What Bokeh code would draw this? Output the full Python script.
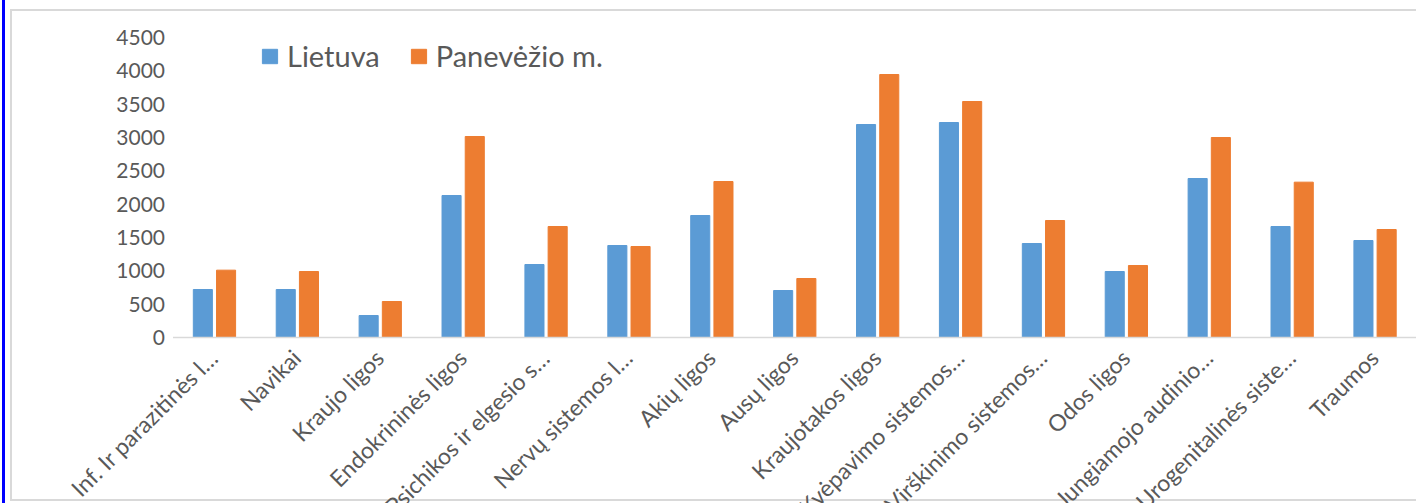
import math
from bokeh.plotting import figure
from bokeh.models import ColumnDataSource, Range1d, Legend, LegendItem
from bokeh.core.properties import value
from bokeh.transform import dodge
from bokeh.embed import file_html
from bokeh.resources import INLINE

categories = ["Inf. Ir parazitinės l…", "Navikai", "Kraujo ligos", "Endokrininės ligos",
              "Psichikos ir elgesio s…", "Nervų sistemos l…", "Akių ligos", "Ausų ligos",
              "Kraujotakos ligos", "Kvėpavimo sistemos…", "Virškinimo sistemos…", "Odos ligos",
              "Jungiamojo audinio…", "Urogenitalinės siste…", "Traumos"]
lietuva = [720, 720, 330, 2130, 1095, 1380, 1830, 705, 3195, 3225, 1410, 990, 2385, 1665, 1455]
panevezio = [1010, 990, 540, 3015, 1665, 1365, 2340, 885, 3945, 3540, 1755, 1080, 3000, 2330, 1620]
y_ticks = [0, 500, 1000, 1500, 2000, 2500, 3000, 3500, 4000, 4500]
y_tick_labels = [str(t) for t in y_ticks]

FONT = "Lato"
TXT = "#595959"
BLUE = "#5B9BD5"
ORANGE = "#ED7D31"

n = len(categories)
idx = list(range(n))
src = ColumnDataSource(dict(x=idx, y0=[0] * n, cat=categories, lt=lietuva, pm=panevezio))
axis_start = -0.5
axis_end = n - 0.5
ticks_src = ColumnDataSource(dict(x=[axis_start] * len(y_ticks), y=y_ticks, t=y_tick_labels))

# the frame covers the whole canvas so the slanted category labels and the tick labels
# are not clipped; the chart's plotting area spans axis_start..axis_end and 0..4500
p = figure(width=1416, height=503, output_backend="svg", toolbar_location=None,
           x_range=Range1d(axis_start - 2.081, axis_end), y_range=Range1d(-2490, 5055),
           min_border_left=0, min_border_right=0, min_border_top=0, min_border_bottom=0)
p.outline_line_color = None
p.grid.visible = False
p.xaxis.visible = False
p.yaxis.visible = False
p.background_fill_color = None
p.border_fill_color = None
g = "linear-gradient(#d9d9d9,#d9d9d9)"
p.styles = {"background": (
    "linear-gradient(#0000ff,#0000ff) 2px 0px / 3px 100% no-repeat, "
    f"{g} 10px 9px / 2px 492px no-repeat, "
    f"{g} 10px 9px / 1410px 2px no-repeat, "
    f"{g} 10px 499px / 1410px 2px no-repeat, "
    "#ffffff")}

r1 = p.vbar(x=dodge("x", -0.14), top="lt", width=0.23, source=src, color=BLUE)
r2 = p.vbar(x=dodge("x", 0.14), top="pm", width=0.23, source=src, color=ORANGE)

# category axis line
p.segment(x0=[axis_start], x1=[axis_end], y0=[0], y1=[0], line_color="#d9d9d9", line_width=1.5)

# category labels
p.text(x="x", y="y0", text="cat", source=src, angle=math.pi / 4,
       text_align="right", text_baseline="middle", x_offset=-1, y_offset=16,
       text_font=value(FONT), text_font_size="23px", text_color=TXT)

# value axis labels
p.text(x="x", y="y", text="t", source=ticks_src, text_align="right", text_baseline="middle",
       x_offset=-8, text_font=value(FONT), text_font_size="21px", text_color=TXT)

legend = Legend(items=[LegendItem(label="Lietuva", renderers=[r1]),
                       LegendItem(label="Panevėžio m.", renderers=[r2])],
                orientation="horizontal", location=(260, 430))
legend.border_line_color = None
legend.background_fill_alpha = 0
legend.padding = 0
legend.margin = 0
legend.spacing = 29
legend.glyph_width = 19
legend.glyph_height = 18
legend.label_height = 34
legend.label_standoff = 8
legend.label_text_font = FONT
legend.label_text_font_size = "29px"
legend.label_text_color = TXT
p.add_layout(legend)

open("out.html", "w").write(file_html(p, INLINE))
